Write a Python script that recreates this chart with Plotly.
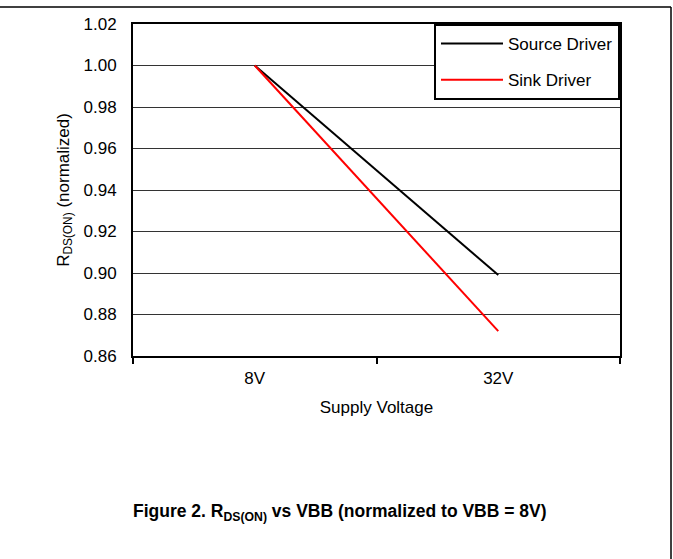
import plotly.graph_objects as go

categories = ["8V", "32V"]
source_driver = [1.00, 0.899]
sink_driver = [1.00, 0.872]
y_ticks = [0.86, 0.88, 0.90, 0.92, 0.94, 0.96, 0.98, 1.00, 1.02]

W, H = 673, 559
L, R, T, B = 133, 53, 24, 202.5
pw, ph = W - L - R, H - T - B

def px(x):
    return (x - L) / pw

def py(y):
    return (H - B - y) / ph

FONT = "Liberation Sans, Arial, sans-serif"
FS = 17

fig = go.Figure()
fig.add_trace(go.Scatter(x=categories, y=source_driver, mode="lines", name="Source Driver",
                         line=dict(color="black", width=2), legendgroup="a"))
fig.add_trace(go.Scatter(x=categories, y=sink_driver, mode="lines", name="Sink Driver",
                         line=dict(color="#ff0000", width=2), legendgroup="b"))

fig.update_layout(
    width=W, height=H,
    margin=dict(l=L, r=R, t=T, b=B, pad=0),
    paper_bgcolor="white", plot_bgcolor="white",
    font=dict(family=FONT, size=FS, color="black"),
    showlegend=True,
    legend=dict(x=1, y=1, xanchor="right", yanchor="top",
                bordercolor="black", borderwidth=2, bgcolor="white",
                font=dict(size=FS, color="black"), tracegroupgap=11, traceorder="grouped",
                itemwidth=62),
    xaxis=dict(type="category", range=[-0.5, 1.5], tickson="boundaries",
               ticks="outside", ticklen=6, tickwidth=1.5, tickcolor="black",
               showline=True, linecolor="black", linewidth=2, mirror=True,
               showgrid=False, zeroline=False, ticklabelstandoff=6,
               tickfont=dict(size=FS, color="black"),
               title=dict(text="Supply Voltage", standoff=14, font=dict(size=FS, color="black"))),
    yaxis=dict(range=[0.86, 1.02], tickvals=y_ticks, tickformat=".2f",
               ticks="", showline=True, linecolor="black", linewidth=2, mirror=True,
               showgrid=True, gridcolor="#333333", gridwidth=1, zeroline=False,
               ticklabelstandoff=11, tickfont=dict(size=FS, color="black"),
               title=dict(text="R<sub>DS(ON)</sub> (normalized)", standoff=10,
                          font=dict(size=FS, color="black"))),
    shapes=[
        dict(type="line", xref="paper", yref="paper", x0=px(0), x1=px(671), y0=py(7), y1=py(7),
             line=dict(color="black", width=1.5)),
        dict(type="line", xref="paper", yref="paper", x0=px(671), x1=px(671), y0=py(7), y1=py(560),
             line=dict(color="black", width=1.5)),
    ],
    annotations=[
        dict(text="<b>Figure 2. R<sub>DS(ON)</sub> vs VBB (normalized to VBB = 8V)</b>",
             xref="paper", yref="paper", x=px(340), y=py(513), xanchor="center", yanchor="middle",
             showarrow=False, font=dict(size=17.5, family=FONT, color="black")),
    ],
)

fig.write_html("out.html", config={"displayModeBar": False},
               post_script="document.body.style.margin='0';")
